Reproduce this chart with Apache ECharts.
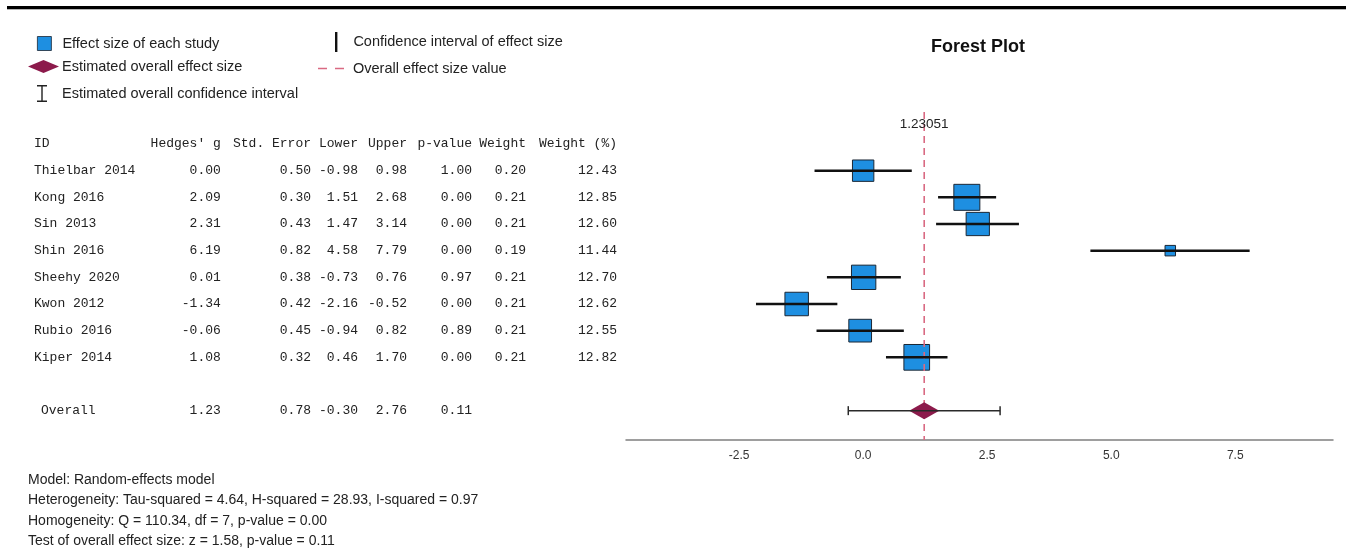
<!DOCTYPE html>
<html><head><meta charset="utf-8">
<script src="https://cdn.jsdelivr.net/npm/echarts@6/dist/echarts.min.js"></script>
<style>html,body{margin:0;padding:0;background:#fff;}#chart{width:1346px;height:550px;}</style>
</head><body><div id="chart"></div>
<script>
// ---------------- data ----------------
const studyNames = ['Thielbar 2014','Kong 2016','Sin 2013','Shin 2016','Sheehy 2020','Kwon 2012','Rubio 2016','Kiper 2014'];
const hedgesG   = [0.00, 2.09, 2.31, 6.19, 0.01, -1.34, -0.06, 1.08];
const stdError  = [0.50, 0.30, 0.43, 0.82, 0.38, 0.42, 0.45, 0.32];
const lowerCI   = [-0.98, 1.51, 1.47, 4.58, -0.73, -2.16, -0.94, 0.46];
const upperCI   = [0.98, 2.68, 3.14, 7.79, 0.76, -0.52, 0.82, 1.70];
const pValues   = [1.00, 0.00, 0.00, 0.00, 0.97, 0.00, 0.89, 0.00];
const weights   = [0.20, 0.21, 0.21, 0.19, 0.21, 0.21, 0.21, 0.21];
const weightPct = [12.43, 12.85, 12.60, 11.44, 12.70, 12.62, 12.55, 12.82];

const overallName  = 'Overall';
const overallG     = 1.23051;
const overallSE    = 0.78;
const overallLower = -0.30;
const overallUpper = 2.76;
const overallP     = 0.11;

const tableHeaders = ['ID', "Hedges' g", 'Std. Error', 'Lower', 'Upper', 'p-value', 'Weight', 'Weight (%)'];
const xTickValues  = [-2.5, 0, 2.5, 5, 7.5];
const footnotes = [
  'Model: Random-effects model',
  'Heterogeneity: Tau-squared = 4.64, H-squared = 28.93, I-squared = 0.97',
  'Homogeneity: Q = 110.34, df = 7, p-value = 0.00',
  'Test of overall effect size: z = 1.58, p-value = 0.11'
];
const chartTitle = 'Forest Plot';
const legendNames = {
  study: 'Effect size of each study',
  overall: 'Estimated overall effect size',
  overallCI: 'Estimated overall confidence interval',
  studyCI: 'Confidence interval of effect size',
  refLine: 'Overall effect size value'
};

// ---------------- layout / style ----------------
const SANS = '"Liberation Sans", Arial, sans-serif';
const MONO = '"Liberation Mono", "DejaVu Sans Mono", monospace';
const BLUE = '#1e8fe1', MAROON = '#8c1a4b', PINK = '#d96a82';
const X_MIN = -4.78, X_MAX = 9.47;
const Y_MIN = -2.2, Y_MAX = 10.1;
const colX = [34, 220.8, 311, 358, 407, 472, 526, 617]; // first is left edge, the rest right edges
const overallRow = studyNames.length + 1;
const minW = Math.min(...weightPct);

const studyPoints = studyNames.map((n, i) => [hedgesG[i], i, weightPct[i]]);
const studyIntervals = studyNames.map((n, i) => [lowerCI[i], upperCI[i], i]);

const option = {
  animation: false,
  textStyle: { fontFamily: SANS },
  title: {
    text: chartTitle, left: 931, top: 38, padding: 0,
    textStyle: { fontSize: 18, fontWeight: 'bold', color: '#111', fontFamily: SANS }
  },
  legend: [
    { data: [{ name: legendNames.study, icon: 'rect',
               itemStyle: { color: BLUE, borderColor: '#1b2735', borderWidth: 0.8 } }],
      left: 37, top: 36, padding: 0,
      itemWidth: 14, itemHeight: 14, selectedMode: false,
      textStyle: { fontSize: 14.5, color: '#222', padding: [0, 0, 0, 6] } },
    { data: [{ name: legendNames.overall, icon: 'diamond', itemStyle: { color: MAROON, borderWidth: 0 } }],
      left: 28, top: 59, padding: 0, itemWidth: 31, itemHeight: 13, selectedMode: false,
      textStyle: { fontSize: 14.5, color: '#222', padding: [0, 0, 0, -2] } },
    { data: [{ name: legendNames.overallCI,
               icon: 'path://M0,0h10v1.4h-10z M4.3,0h1.4v17h-1.4z M0,15.6h10v1.4h-10z',
               itemStyle: { color: '#222', borderWidth: 0 } }],
      left: 37, top: 85, padding: 0, itemWidth: 10, itemHeight: 17, selectedMode: false,
      textStyle: { fontSize: 14.5, color: '#222', padding: [0, 0, 0, 10] } },
    { data: [{ name: legendNames.studyCI, icon: 'path://M0,0h2.4v20h-2.4z', itemStyle: { color: '#111', borderWidth: 0 } }],
      left: 335, top: 32, padding: 0, itemWidth: 2.4, itemHeight: 20, selectedMode: false,
      textStyle: { fontSize: 14.5, color: '#222', padding: [0, 0, 0, 11] } },
    { data: [{ name: legendNames.refLine, icon: 'path://M0,0h9v1.5h-9z M17,0h9v1.5h-9z', itemStyle: { color: PINK, borderWidth: 0 } }],
      left: 318, top: 61, padding: 0, itemWidth: 26, itemHeight: 1.5, selectedMode: false,
      textStyle: { fontSize: 14.5, color: '#222', padding: [0, 0, 0, 4] } }
  ],
  grid: { left: 626, right: 13, top: 112, bottom: 110 },
  xAxis: {
    type: 'value', min: X_MIN, max: X_MAX,
    axisLine: { show: true, onZero: false, lineStyle: { color: '#7f7f7f', width: 1.5 } },
    axisTick: { show: false },
    splitLine: { show: false },
    axisLabel: { customValues: xTickValues, formatter: v => Number(v).toFixed(1),
                 fontSize: 12, color: '#333', margin: 10, fontFamily: SANS }
  },
  yAxis: { type: 'value', min: Y_MIN, max: Y_MAX, inverse: true, show: false,
           splitLine: { show: false } },
  series: [
    {
      name: legendNames.study, type: 'scatter', symbol: 'rect', z: 2,
      data: studyPoints,
      symbolSize: v => 10.5 + 11 * (v[2] - minW),
      itemStyle: { color: BLUE, borderColor: '#1b2735', borderWidth: 1, opacity: 1 }
    },
    {
      name: legendNames.refLine, type: 'line', z: 3, clip: false,
      symbol: 'circle', symbolSize: 0.01,
      data: [
        { value: [overallG, Y_MIN], label: { show: true, position: 'bottom', distance: 5,
          formatter: () => overallG.toFixed(5), fontSize: 13.5, color: '#222', fontFamily: SANS } },
        [overallG, Y_MAX]
      ],
      lineStyle: { color: PINK, width: 1.6, type: [7, 5] },
      itemStyle: { color: PINK }
    },
    {
      name: legendNames.studyCI, type: 'custom', z: 4,
      data: studyIntervals,
      encode: { x: [0, 1], y: 2 },
      itemStyle: { color: '#111' },
      renderItem: (params, api) => {
        const a = api.coord([api.value(0), api.value(2)]);
        const b = api.coord([api.value(1), api.value(2)]);
        return { type: 'line', shape: { x1: a[0], y1: a[1], x2: b[0], y2: b[1] },
                 style: { stroke: '#111', lineWidth: 2.5 } };
      }
    },
    {
      name: legendNames.overall, type: 'scatter', symbol: 'diamond', z: 5,
      symbolSize: [30, 17],
      data: [[overallG, overallRow]],
      itemStyle: { color: MAROON, opacity: 1 }
    },
    {
      name: legendNames.overallCI, type: 'custom', z: 6,
      data: [[overallLower, overallUpper, overallRow]],
      encode: { x: [0, 1], y: 2 },
      itemStyle: { color: '#222' },
      renderItem: (params, api) => {
        const a = api.coord([api.value(0), api.value(2)]);
        const b = api.coord([api.value(1), api.value(2)]);
        const st = { stroke: '#2a2a2a', lineWidth: 1.5 };
        return { type: 'group', children: [
          { type: 'line', shape: { x1: a[0], y1: a[1], x2: b[0], y2: b[1] }, style: st },
          { type: 'line', shape: { x1: a[0], y1: a[1] - 4.5, x2: a[0], y2: a[1] + 4.5 }, style: st },
          { type: 'line', shape: { x1: b[0], y1: b[1] - 4.5, x2: b[0], y2: b[1] + 4.5 }, style: st }
        ] };
      }
    }
  ]
};

const chart = echarts.init(document.getElementById('chart'), null, { renderer: 'canvas' });
chart.setOption(option);

// ---------------- table & notes (text aligned to the plot rows) ----------------
const f2 = v => v.toFixed(2);
const rowY = r => chart.convertToPixel({ yAxisIndex: 0 }, r);
const tableRows = [
  { row: -1, cells: tableHeaders },
  ...studyNames.map((n, i) => ({ row: i, cells: [n, f2(hedgesG[i]), f2(stdError[i]), f2(lowerCI[i]),
      f2(upperCI[i]), f2(pValues[i]), f2(weights[i]), f2(weightPct[i])] })),
  { row: overallRow, indent: 7, cells: [overallName, f2(overallG), f2(overallSE), f2(overallLower),
      f2(overallUpper), f2(overallP), '', ''] }
];
const graphics = [
  { type: 'rect', shape: { x: 7, y: 6, width: 1339, height: 3 }, style: { fill: '#000' }, silent: true },
  { type: 'rect', shape: { x: 7, y: 9, width: 1339, height: 1 }, style: { fill: '#b5b5b5' }, silent: true }
];
tableRows.forEach(r => {
  const y = rowY(r.row);
  r.cells.forEach((c, j) => {
    if (c === '') return;
    graphics.push({
      type: 'text', x: j === 0 ? colX[0] + (r.indent || 0) : colX[j], y: y, silent: true,
      style: { text: c, font: '13px ' + MONO, fill: '#222',
               textAlign: j === 0 ? 'left' : 'right', textVerticalAlign: 'middle' }
    });
  });
});
footnotes.forEach((t, k) => {
  graphics.push({ type: 'text', x: 28, y: 480 + k * 20.5, silent: true,
    style: { text: t, font: '14px ' + SANS, fill: '#222', textVerticalAlign: 'middle' } });
});
chart.setOption({ graphic: graphics });
</script></body></html>
